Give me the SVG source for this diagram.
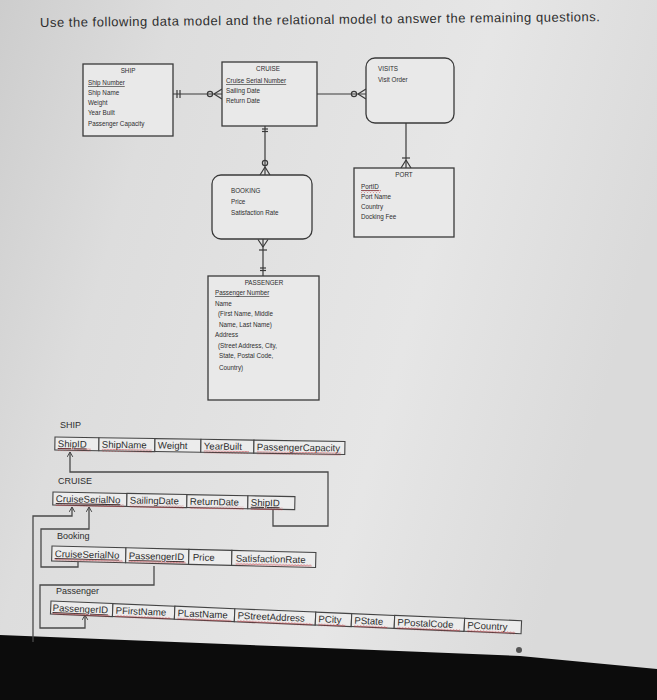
<svg xmlns="http://www.w3.org/2000/svg" width="657" height="700" viewBox="0 0 657 700">
<defs>
<linearGradient id="bg" x1="0" y1="0" x2="1" y2="0.3">
<stop offset="0" stop-color="#cdcdcd"/>
<stop offset="0.25" stop-color="#dddddd"/>
<stop offset="0.7" stop-color="#e6e6e6"/>
<stop offset="1" stop-color="#dadada"/>
</linearGradient>
<pattern id="squig" patternUnits="userSpaceOnUse" width="3" height="3">
<path d="M0 2.4 L1.5 0.6 L3 2.4" fill="none" stroke="#c0303a" stroke-width="0.7"/>
</pattern>
<marker id="arr" viewBox="0 0 10 10" refX="9" refY="5" markerWidth="7" markerHeight="7" orient="auto" markerUnits="userSpaceOnUse">
<path d="M2 1 L9 5 L2 9" fill="none" stroke="#444" stroke-width="1.4"/>
</marker>
<style>
.er{font-family:"Liberation Sans",Arial,sans-serif;font-size:6.3px;fill:#2e2e2e;}
.ert{font-family:"Liberation Sans",Arial,sans-serif;font-size:6.3px;fill:#2e2e2e;text-anchor:middle;}
.box{fill:#e9e9e9;stroke:#3a3a3a;stroke-width:1.3;}
.ln{fill:none;stroke:#3a3a3a;stroke-width:1.2;}
.rt{font-family:"Liberation Sans",Arial,sans-serif;font-size:9.6px;fill:#2e2e2e;}
.lab{font-family:"Liberation Sans",Arial,sans-serif;font-size:9px;fill:#2e2e2e;}
.cell{fill:#ececec;stroke:#444;stroke-width:1.1;}
.rl{fill:none;stroke:#4a4a4a;stroke-width:1.3;}
.sq{fill:url(#squig);}
</style>
</defs>
<rect x="0" y="0" width="657" height="700" fill="url(#bg)"/>
<polygon points="0,635 300,647 520,656 657,669 657,700 0,700" fill="#0c0c0c"/>
<circle cx="519" cy="650" r="3" fill="#555"/>

<text x="40" y="27" class="rt" style="font-size:13px" textLength="560" transform="rotate(-0.6 40 27)">Use the following data model  and the relational model to answer the remaining questions.</text>

<!-- ER diagram -->
<g id="er-connectors">
  <line class="ln" x1="173" y1="94" x2="222" y2="94"/>
  <line class="ln" x1="177" y1="90" x2="177" y2="98"/>
  <line class="ln" x1="180" y1="90" x2="180" y2="98"/>
  <circle class="ln" cx="210" cy="94" r="2.6" fill="#e6e6e6"/>
  <path class="ln" d="M214 94 L222 89 M214 94 L222 99"/>
  <line class="ln" x1="317" y1="94" x2="366" y2="94"/>
  <circle class="ln" cx="354" cy="94" r="2.6" fill="#e6e6e6"/>
  <path class="ln" d="M358 94 L366 89 M358 94 L366 99"/>
  <line class="ln" x1="265" y1="126" x2="265" y2="175"/>
  <line class="ln" x1="262" y1="129" x2="268" y2="129"/>
  <line class="ln" x1="262" y1="131.5" x2="268" y2="131.5"/>
  <circle class="ln" cx="265" cy="163" r="2.6" fill="#e6e6e6"/>
  <path class="ln" d="M265 167 L260 175 M265 167 L270 175"/>
  <line class="ln" x1="406" y1="123" x2="406" y2="168"/>
  <line class="ln" x1="402" y1="158" x2="410" y2="158"/>
  <path class="ln" d="M406 160 L401 168 M406 160 L411 168"/>
  <line class="ln" x1="263" y1="239" x2="263" y2="276"/>
  <path class="ln" d="M263 247 L258 239.5 M263 247 L268 239.5"/>
  <line class="ln" x1="259" y1="250" x2="267" y2="250"/>
  <line class="ln" x1="260" y1="268" x2="266" y2="268"/>
  <line class="ln" x1="260" y1="270.5" x2="266" y2="270.5"/>
</g>

<g id="er-ship">
  <rect class="box" x="83" y="64" width="90" height="72"/>
  <text class="ert" x="128" y="73">SHIP</text>
  <text class="er" x="88" y="85" text-decoration="underline">Ship Number</text>
  <text class="er" x="88" y="95">Ship Name</text>
  <text class="er" x="88" y="105">Weight</text>
  <text class="er" x="88" y="115">Year Built</text>
  <text class="er" x="88" y="126">Passenger Capacity</text>
</g>
<g id="er-cruise">
  <rect class="box" x="222" y="62" width="95" height="64"/>
  <text class="ert" x="268" y="71">CRUISE</text>
  <text class="er" x="226" y="83" text-decoration="underline">Cruise Serial Number</text>
  <text class="er" x="226" y="93">Sailing Date</text>
  <text class="er" x="226" y="103">Return Date</text>
</g>
<g id="er-visits">
  <rect class="box" x="366" y="58" width="88" height="65" rx="9"/>
  <text class="er" x="378" y="71">VISITS</text>
  <text class="er" x="378" y="82">Visit Order</text>
</g>
<g id="er-booking">
  <rect class="box" x="212" y="175" width="100" height="64" rx="9"/>
  <text class="er" x="231" y="193">BOOKING</text>
  <text class="er" x="231" y="204">Price</text>
  <text class="er" x="231" y="215">Satisfaction Rate</text>
</g>
<g id="er-port">
  <rect class="box" x="354" y="168" width="100" height="69"/>
  <text class="ert" x="404" y="177">PORT</text>
  <text class="er" x="361" y="189" text-decoration="underline">PortID</text>
  <rect class="sq" x="361" y="190" width="20" height="3"/>
  <text class="er" x="361" y="199">Port Name</text>
  <text class="er" x="361" y="209">Country</text>
  <text class="er" x="361" y="219">Docking Fee</text>
</g>
<g id="er-passenger">
  <rect class="box" x="208" y="276" width="111" height="124"/>
  <text class="ert" x="264" y="285">PASSENGER</text>
  <text class="er" x="215" y="295" text-decoration="underline">Passenger Number</text>
  <text class="er" x="215" y="306">Name</text>
  <text class="er" x="218" y="316">(First Name, Middle</text>
  <text class="er" x="219" y="327">Name, Last Name)</text>
  <text class="er" x="215" y="337">Address</text>
  <text class="er" x="218" y="348">(Street Address, City,</text>
  <text class="er" x="219" y="358">State, Postal Code,</text>
  <text class="er" x="219" y="370">Country)</text>
</g>

<!-- Relational model -->
<g id="rel-connectors">
  <path class="rl" d="M273 507 L273 526 L328 526 L328 472 L70 472 L70 452" marker-end="url(#arr)"/>
  <path class="rl" d="M33 642 L33 516 L72 516 L72 507" marker-end="url(#arr)"/>
  <path class="rl" d="M78 562 L78 567 L41 567 L41 529 L89 529 L89 507" marker-end="url(#arr)"/>
  <path class="rl" d="M154 566 L154 585 L40 585 L40 628 L85 628 L85 615" marker-end="url(#arr)"/>
</g>

<g id="rel-ship">
  <text class="lab" x="60" y="428">SHIP</text>
  <g transform="rotate(0.9 55 437)">
    <rect class="cell" x="55" y="437" width="44" height="13"/>
    <rect class="cell" x="99" y="437" width="56" height="13"/>
    <rect class="cell" x="155" y="437" width="46" height="13"/>
    <rect class="cell" x="201" y="437" width="53" height="13"/>
    <rect class="cell" x="254" y="437" width="91" height="13"/>
    <text class="rt" x="58" y="447" text-decoration="underline">ShipID</text>
    <rect class="sq" x="58" y="448" width="33" height="3"/>
    <text class="rt" x="102" y="447">ShipName</text>
    <rect class="sq" x="102" y="448" width="50" height="3"/>
    <text class="rt" x="158" y="447">Weight</text>
    <text class="rt" x="204" y="447">YearBuilt</text>
    <rect class="sq" x="204" y="448" width="45" height="3"/>
    <text class="rt" x="257" y="447">PassengerCapacity</text>
    <rect class="sq" x="257" y="448" width="84" height="3"/>
  </g>
</g>

<g id="rel-cruise">
  <text class="lab" x="58" y="484">CRUISE</text>
  <g transform="rotate(1.1 53 492)">
    <rect class="cell" x="53" y="492" width="74" height="13"/>
    <rect class="cell" x="127" y="492" width="60" height="13"/>
    <rect class="cell" x="187" y="492" width="61" height="13"/>
    <rect class="cell" x="248" y="492" width="47" height="13"/>
    <text class="rt" x="56" y="502" text-decoration="underline">CruiseSerialNo</text>
    <rect class="sq" x="56" y="503" width="68" height="3"/>
    <text class="rt" x="130" y="502">SailingDate</text>
    <rect class="sq" x="130" y="503" width="54" height="3"/>
    <text class="rt" x="190" y="502">ReturnDate</text>
    <rect class="sq" x="190" y="503" width="54" height="3"/>
    <text class="rt" x="251" y="502" text-decoration="underline">ShipID</text>
    <rect class="sq" x="251" y="503" width="32" height="3"/>
  </g>
</g>

<g id="rel-booking">
  <text class="lab" x="57" y="539">Booking</text>
  <g transform="rotate(1.4 52 546)">
    <rect class="cell" x="52" y="546" width="74" height="15"/>
    <rect class="cell" x="126" y="546" width="63" height="15"/>
    <rect class="cell" x="189" y="546" width="43" height="15"/>
    <rect class="cell" x="232" y="546" width="84" height="15"/>
    <text class="rt" x="55" y="557" text-decoration="underline">CruiseSerialNo</text>
    <rect class="sq" x="55" y="558" width="68" height="3"/>
    <text class="rt" x="129" y="557" text-decoration="underline">PassengerID</text>
    <rect class="sq" x="129" y="558" width="57" height="3"/>
    <text class="rt" x="193" y="557">Price</text>
    <text class="rt" x="236" y="557">SatisfactionRate</text>
    <rect class="sq" x="236" y="558" width="76" height="3"/>
  </g>
</g>

<g id="rel-passenger">
  <text class="lab" x="56" y="594">Passenger</text>
  <g transform="rotate(2.4 51 601)">
    <rect class="cell" x="51" y="601" width="62" height="13"/>
    <rect class="cell" x="113" y="601" width="62" height="13"/>
    <rect class="cell" x="175" y="601" width="60" height="13"/>
    <rect class="cell" x="235" y="601" width="81" height="13"/>
    <rect class="cell" x="316" y="601" width="36" height="13"/>
    <rect class="cell" x="352" y="601" width="43" height="13"/>
    <rect class="cell" x="395" y="601" width="70" height="13"/>
    <rect class="cell" x="465" y="601" width="57" height="13"/>
    <text class="rt" x="53" y="611" text-decoration="underline">PassengerID</text>
    <rect class="sq" x="53" y="612" width="57" height="3"/>
    <text class="rt" x="116" y="611">PFirstName</text>
    <rect class="sq" x="116" y="612" width="55" height="3"/>
    <text class="rt" x="178" y="611">PLastName</text>
    <rect class="sq" x="178" y="612" width="54" height="3"/>
    <text class="rt" x="238" y="611">PStreetAddress</text>
    <rect class="sq" x="238" y="612" width="75" height="3"/>
    <text class="rt" x="319" y="611">PCity</text>
    <rect class="sq" x="319" y="612" width="27" height="3"/>
    <text class="rt" x="355" y="611">PState</text>
    <rect class="sq" x="355" y="612" width="33" height="3"/>
    <text class="rt" x="398" y="611">PPostalCode</text>
    <rect class="sq" x="398" y="612" width="63" height="3"/>
    <text class="rt" x="468" y="611">PCountry</text>
    <rect class="sq" x="468" y="612" width="48" height="3"/>
  </g>
</g>
</svg>
